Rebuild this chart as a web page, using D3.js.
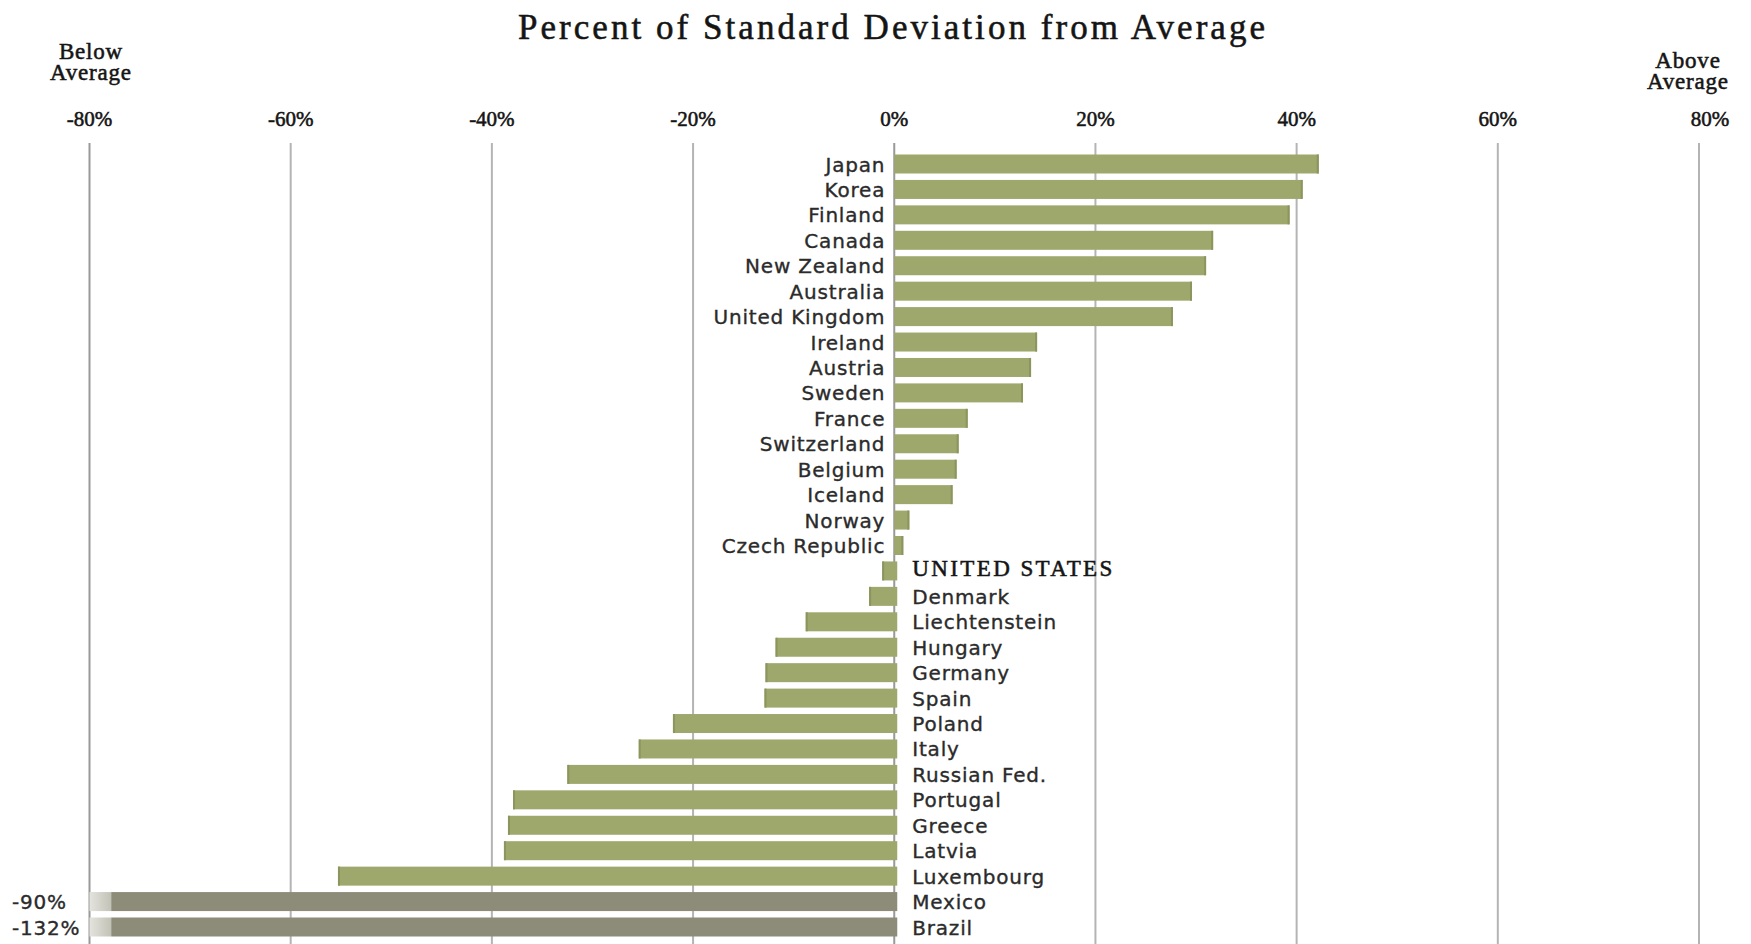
<!DOCTYPE html>
<html>
<head>
<meta charset="utf-8">
<script src="https://cdn.jsdelivr.net/npm/d3@7"></script>
<style>
  html, body { margin: 0; padding: 0; background: #ffffff; }
  svg { display: block; }
  .serif { font-family: "Liberation Serif", "DejaVu Serif", serif; fill: #151515; stroke: #151515; stroke-width: 0.55px; }
  .country { font-family: "DejaVu Sans", Verdana, sans-serif; font-size: 20px; letter-spacing: 0.8px; fill: #2b2b2b; stroke: #2b2b2b; stroke-width: 0.35px; }
</style>
</head>
<body>
<svg id="chart" width="1751" height="944"></svg>
<script>
// Countries, top to bottom
const countries = [
  "Japan", "Korea", "Finland", "Canada", "New Zealand", "Australia",
  "United Kingdom", "Ireland", "Austria", "Sweden", "France", "Switzerland",
  "Belgium", "Iceland", "Norway", "Czech Republic", "UNITED STATES",
  "Denmark", "Liechtenstein", "Hungary", "Germany", "Spain", "Poland",
  "Italy", "Russian Fed.", "Portugal", "Greece", "Latvia", "Luxembourg",
  "Mexico", "Brazil"
];

// Percent of standard deviation from the average, per country
const values = [
  42.2, 40.6, 39.3, 31.7, 31.0, 29.6,
  27.7, 14.2, 13.6, 12.8, 7.3, 6.4,
  6.2, 5.8, 1.5, 0.9, -1.2,
  -2.5, -8.8, -11.8, -12.8, -12.9, -22.0,
  -25.4, -32.5, -37.9, -38.4, -38.8, -55.3,
  -90, -132
];

// Axis ticks
const tickValues = [-80, -60, -40, -20, 0, 20, 40, 60, 80];
const tickLabels = ["-80%", "-60%", "-40%", "-20%", "0%", "20%", "40%", "60%", "80%"];

const titleText = "Percent of Standard Deviation from Average";
const highlight = "UNITED STATES";

const data = countries.map((c, i) => ({ country: c, value: values[i] }));

const svg = d3.select("#chart");

const x = d3.scaleLinear().domain([-80, 80]).range([89.5, 1699]).clamp(true);
const y = d3.scalePoint().domain(countries).range([164, 927]);
const barH = 19;

const gridTop = 143, gridBottom = 944;

// Gradient used for bars that run past the left edge of the scale
const defs = svg.append("defs");
const fade = defs.append("linearGradient").attr("id", "offscale")
  .attr("x1", "0%").attr("x2", "100%");
fade.append("stop").attr("offset", "0%").attr("stop-color", "#e4e4de");
fade.append("stop").attr("offset", "2.6%").attr("stop-color", "#c3c3b8");
fade.append("stop").attr("offset", "2.8%").attr("stop-color", "#8d8c79");
fade.append("stop").attr("offset", "100%").attr("stop-color", "#8d8c79");

// Title
svg.append("text")
  .attr("class", "serif")
  .attr("x", 891.5).attr("y", 38.5)
  .attr("text-anchor", "middle")
  .attr("font-size", 35)
  .attr("stroke-width", 0.75)
  .attr("textLength", 747)
  .attr("lengthAdjust", "spacing")
  .text(titleText);

// Direction captions
function caption(lines, cx, y0) {
  const t = svg.append("text").attr("class", "serif")
    .attr("text-anchor", "middle").attr("font-size", 23)
    .attr("letter-spacing", "0.8px");
  lines.forEach((l, i) => {
    t.append("tspan").attr("x", cx).attr("y", y0 + i * 21.7).text(l);
  });
}
caption(["Below", "Average"], 91, 58.5);
caption(["Above", "Average"], 1688, 67.7);

// Grid lines
svg.append("g").selectAll("line")
  .data(tickValues)
  .join("line")
  .attr("x1", d => x(d)).attr("x2", d => x(d))
  .attr("y1", gridTop).attr("y2", gridBottom)
  .attr("stroke", d => (d === 0 || d === -80) ? "#999999" : "#b4b4b4")
  .attr("stroke-width", 2);

// Tick labels along the top
svg.append("g").selectAll("text")
  .data(tickValues)
  .join("text")
  .attr("class", "serif")
  .attr("x", (d, i) => x(d) + (i === tickValues.length - 1 ? 11 : 0))
  .attr("y", 126)
  .attr("text-anchor", "middle")
  .attr("font-size", 21)
  .attr("stroke-width", 0.8)
  .text((d, i) => tickLabels[i]);

// Bars
const offScale = d => d.value < x.domain()[0];
svg.append("g").selectAll("rect")
  .data(data)
  .join("rect")
  .attr("x", d => Math.min(x(d.value), x(0)))
  .attr("y", d => y(d.country) - barH / 2)
  .attr("width", d => Math.abs(x(d.value) - x(0)) + (d.value < 0 ? 3 : 0))
  .attr("height", barH)
  .attr("fill", d => offScale(d) ? "url(#offscale)" : "#9ea76c");

// Darker cap at the outer end of each bar
svg.append("g").selectAll("rect")
  .data(data.filter(d => !offScale(d)))
  .join("rect")
  .attr("x", d => d.value >= 0 ? x(d.value) - 2 : x(d.value))
  .attr("y", d => y(d.country) - barH / 2)
  .attr("width", 2)
  .attr("height", barH)
  .attr("fill", "#8c955e");

// Country labels: left of zero for positive values, right of zero for negative
svg.append("g").selectAll("text")
  .data(data)
  .join("text")
  .attr("class", d => d.country === highlight ? "serif" : "country")
  .attr("x", d => d.value >= 0 ? x(0) - 9 : x(0) + 18)
  .attr("y", d => y(d.country) + (d.country === highlight ? 5 : 7.5))
  .attr("text-anchor", d => d.value >= 0 ? "end" : "start")
  .attr("font-size", d => d.country === highlight ? 23 : null)
  .attr("letter-spacing", d => d.country === highlight ? "2.4px" : null)
  .text(d => d.country);

// Values of bars that run past the scale
svg.append("g").selectAll("text")
  .data(data.filter(offScale))
  .join("text")
  .attr("class", "country")
  .attr("x", 12)
  .attr("y", d => y(d.country) + 7.5)
  .attr("font-size", 19)
  .attr("letter-spacing", "0.6px")
  .attr("fill", "#3a3a3a")
  .text(d => d.value + "%");
</script>
</body>
</html>
